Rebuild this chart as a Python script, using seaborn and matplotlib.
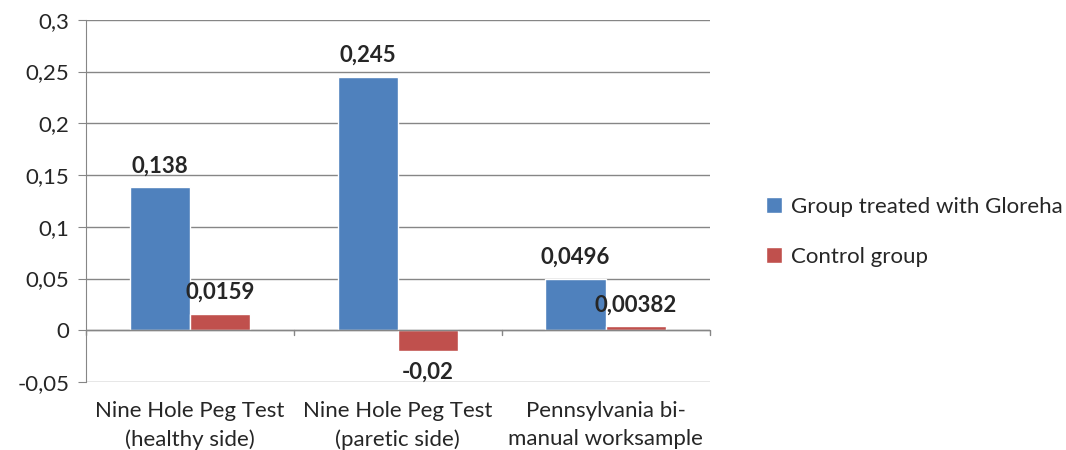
import numpy as np
import pandas as pd
import matplotlib
matplotlib.use("Agg")
import matplotlib.pyplot as plt
import seaborn as sns
from matplotlib.ticker import FuncFormatter, MultipleLocator

categories = ["Nine Hole Peg Test\n(healthy side)",
              "Nine Hole Peg Test\n(paretic side)",
              "Pennsylvania bi-\nmanual worksample"]
groups = ["Group treated with Gloreha", "Control group"]
gloreha = [0.138, 0.245, 0.0496]
control = [0.0159, -0.02, 0.00382]

df = pd.DataFrame({
    "test": categories * 2,
    "group": [groups[0]] * 3 + [groups[1]] * 3,
    "value": gloreha + control,
})

sns.set_style("white")
plt.rcParams["font.family"] = ["Lato", "DejaVu Sans"]

fig = plt.figure(figsize=(10.66, 4.5), dpi=100)
ax = fig.add_axes([0.0807, 0.151, 0.585, 0.805])

grid_c = "#868686"
sns.barplot(data=df, x="test", y="value", hue="group", order=categories,
            hue_order=groups, palette=["#4F81BD", "#C0504D"], width=0.58,
            saturation=1, ax=ax, zorder=3, legend=True)

ax.set_ylim(-0.05, 0.3)
ax.set_xlim(-0.5, 2.5)
ax.yaxis.set_major_locator(MultipleLocator(0.05))
ax.yaxis.set_major_formatter(FuncFormatter(
    lambda v, p: "0" if abs(v) < 1e-9 else f"{v:g}".replace(".", ",")))
ax.grid(axis="y", color=grid_c, lw=1, zorder=0)
ax.axhline(0, color=grid_c, lw=1, zorder=4)
for s in ["top", "right", "bottom"]:
    ax.spines[s].set_visible(False)
ax.spines["left"].set_color(grid_c)
ax.tick_params(axis="y", length=6, color=grid_c, labelsize=16, pad=6, left=True)
ax.tick_params(axis="x", length=0, labelsize=16, pad=14)
for t in ax.get_xticklabels():
    t.set_linespacing(1.45)
ax.set_xlabel("")
ax.set_ylabel("")

# category separator ticks on the zero line
for b in np.arange(-0.5, 3, 1):
    ax.plot([b, b], [0, -0.0045], color=grid_c, lw=1, zorder=4, clip_on=False)

for cont in ax.containers:
    labels = [f"{v:g}".replace(".", ",") for v in cont.datavalues]
    ax.bar_label(cont, labels=labels, padding=8, fontsize=16,
                 fontweight="bold", zorder=5)

handles, lbls = ax.get_legend_handles_labels()
ax.legend_.remove()
fig.legend(handles, lbls, loc="center left", bbox_to_anchor=(0.70, 0.485),
           frameon=False, fontsize=16, handlelength=0.7, handleheight=0.7,
           handletextpad=0.4, labelspacing=1.35)

fig.savefig("out.png", dpi=100)
